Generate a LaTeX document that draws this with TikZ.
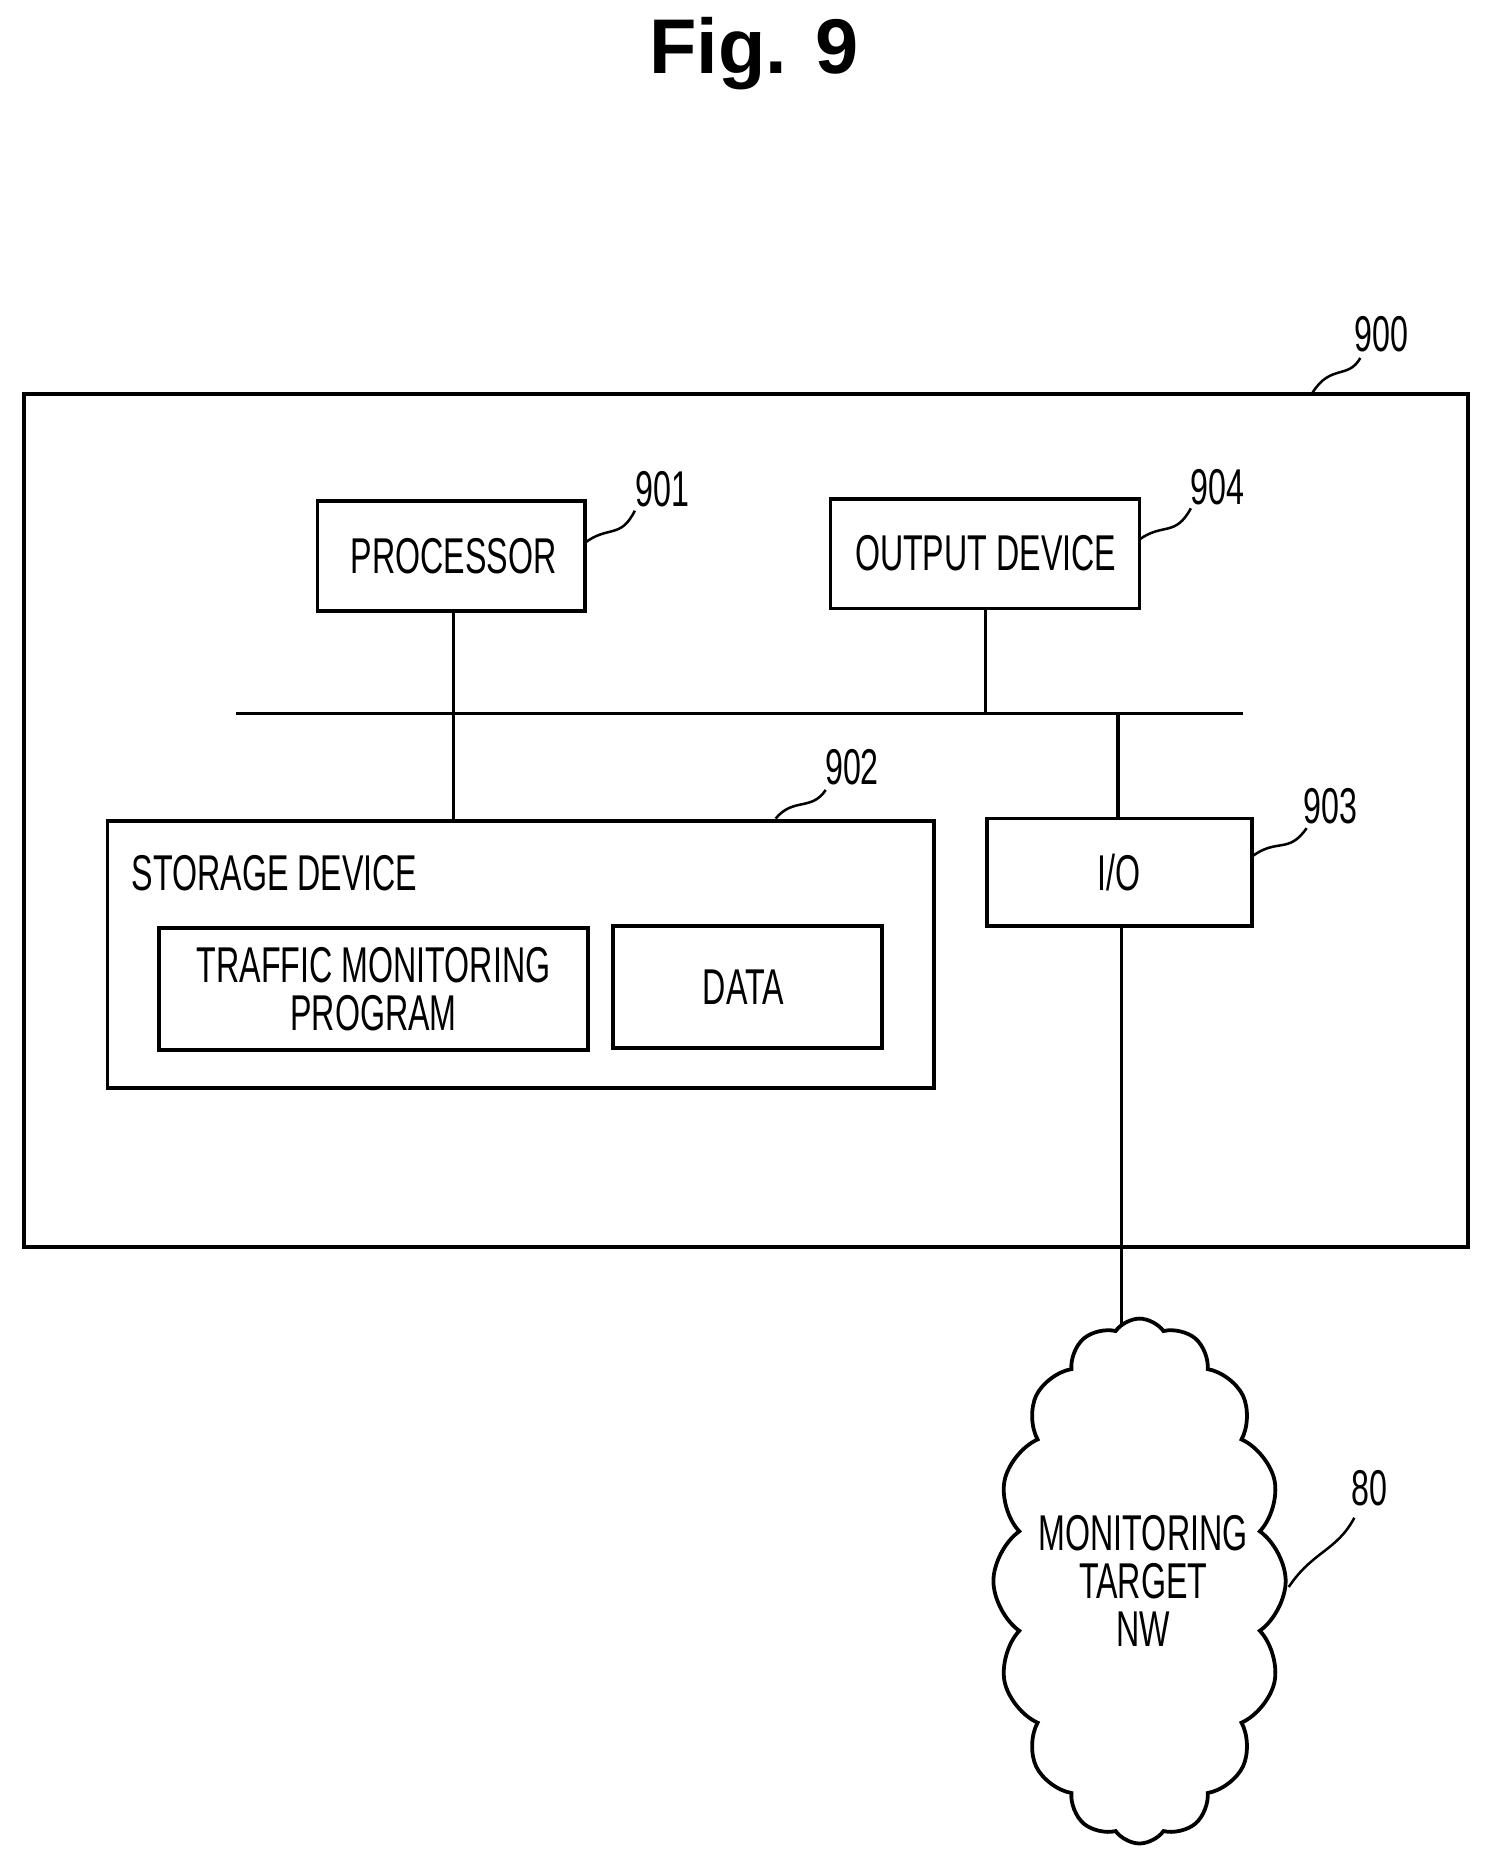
\documentclass[tikz,border=0pt]{standalone}
\usepackage{fontspec}
\setmainfont{Liberation Sans}
\newfontfamily\cond[FakeStretch=0.64]{Liberation Sans}
\usetikzlibrary{shapes.symbols}
\begin{document}
\begin{tikzpicture}[x=0.02cm,y=-0.02cm,
  box/.style={draw,line width=1.8pt},
  lbl/.style={font=\cond\fontsize{24}{23}\selectfont,align=center,inner sep=0},
  ln/.style={line width=1.6pt},
  lead/.style={line width=1.2pt}]
\useasboundingbox (0,0) rectangle (1250,1568);
\node[font=\bfseries\fontsize{37}{40}\selectfont] (title) at (632,45) {Fig. 9};
\draw[box] (20,330) rectangle (1230,1045);
\coordinate (b900) at (1100,329);
\node[lbl] (n900) at (1158,280) {900};
\draw[lead] (b900) .. controls (1115,305) and (1130,318) .. (1140,300);
\draw[box] (266,420) rectangle (490,512);
\node[lbl] (proc) at (380,466) {PROCESSOR};
\node[lbl] (n901) at (555,410) {901};
\draw[lead] (490,455) .. controls (510,440) and (520,452) .. (532,428);
\draw[box] (696,418) rectangle (955,510);
\node[lbl] (out) at (826,464) {OUTPUT DEVICE};
\node[lbl] (n904) at (1020,408) {904};
\draw[lead] (955,452) .. controls (975,438) and (985,450) .. (998,426);
\draw[ln] (198,598) -- (1042,598);
\draw[ln] (380,512) -- (380,688);
\draw[ln] (826,510) -- (826,598);
\draw[ln] (937,598) -- (937,686);
\draw[box] (90,688) rectangle (783,912);
\node[lbl,anchor=west] (sd) at (110,732) {STORAGE DEVICE};
\node[lbl] (tmp) at (313,829) {TRAFFIC MONITORING\\PROGRAM};
\node[lbl] (n902) at (714,643) {902};
\draw[lead] (650,686) .. controls (665,668) and (680,680) .. (692,662);
\draw[box] (133,778) rectangle (493,880);
\draw[box] (514,776) rectangle (739,878);
\node[lbl] (data) at (623,827) {DATA};
\draw[box] (827,686) rectangle (1049,776);
\node[lbl] (io) at (938,731) {I/O};
\node[lbl] (n903) at (1115,676) {903};
\draw[lead] (1049,718) .. controls (1070,702) and (1080,716) .. (1095,694);
\node[cloud,draw,line width=1.8pt,cloud puffs=16,cloud puff arc=110,aspect=0.5,minimum width=4.9cm,minimum height=8.8cm,inner sep=0] (cl) at (955,1325) {};
\node[lbl] (mt) at (958,1325) {MONITORING\\TARGET\\NW};
\draw[ln] (940,776) -- (940,1112);
\node[lbl] (n80) at (1148,1247) {80};
\draw[lead] (1080,1330) .. controls (1100,1300) and (1120,1300) .. (1135,1272);
\end{tikzpicture}
\end{document}
